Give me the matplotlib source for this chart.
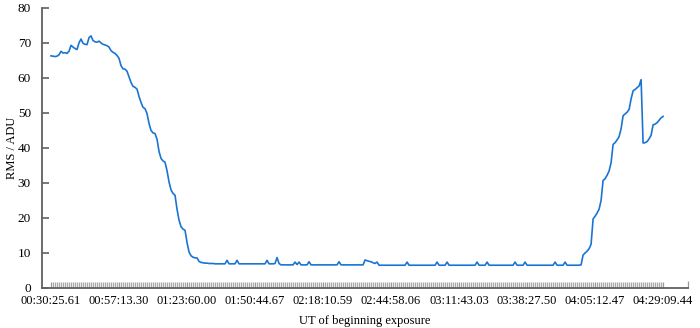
import numpy as np
import matplotlib
matplotlib.use("Agg")
import matplotlib.pyplot as plt

plt.rcParams['font.family'] = ['Liberation Serif', 'DejaVu Serif']

# RMS per exposure (ADU)
rms = [
    66.3, 66.2, 66.1, 66.2, 66.6, 67.6, 67.1, 67.2, 67.0, 67.6, 69.3, 68.8, 68.4, 68.1, 70.0, 71.1, 69.9,
    69.6, 69.5, 71.5, 72.0, 70.7, 70.3, 70.2, 70.5, 70.0, 69.6, 69.4, 69.2, 68.8, 67.8, 67.3, 67.0, 66.4,
    65.6, 63.5, 62.6, 62.5, 61.9, 60.3, 58.7, 57.6, 57.3, 56.8, 54.7, 53.0, 51.6, 51.2, 49.8, 47.0, 45.0,
    44.3, 44.1, 42.5, 39.0, 37.0, 36.3, 35.9, 33.5, 30.3, 28.0, 27.0, 26.5, 22.5, 19.4, 17.5, 16.8, 16.5,
    13.0, 10.3, 9.2, 8.8, 8.6, 8.6, 7.6, 7.3, 7.2,
    7.1, 7.1, 7.0, 7.0, 7.0, 6.9, 6.9, 6.9, 6.9, 6.9, 6.9,
    7.9, 6.9, 6.9, 6.9, 6.9, 7.9, 6.9, 6.9, 6.9, 6.9, 6.9, 6.9,
    6.9, 6.9, 6.9, 6.9, 6.9, 6.9, 6.9, 6.9, 7.9, 6.9, 6.9, 6.9,
    7.0, 8.7, 7.0, 6.6, 6.6, 6.6, 6.6, 6.6, 6.6, 6.6, 7.4, 6.7,
    7.4, 6.6, 6.6, 6.6, 6.6, 7.5, 6.6, 6.6, 6.6, 6.6, 6.6, 6.6,
    6.6, 6.6, 6.6, 6.6, 6.6, 6.6, 6.6, 6.6, 7.5, 6.6, 6.6, 6.6,
    6.6, 6.6, 6.6, 6.6, 6.6, 6.6, 6.6, 6.6, 6.6, 8.0, 7.8, 7.6,
    7.5, 7.2, 7.0, 7.4, 6.5, 6.5, 6.5, 6.5, 6.5, 6.5, 6.5, 6.5,
    6.5, 6.5, 6.5, 6.5, 6.5, 6.5, 7.4, 6.5, 6.5, 6.5, 6.5, 6.5,
    6.5, 6.5, 6.5, 6.5, 6.5, 6.5, 6.5, 6.5, 6.5, 7.4, 6.5, 6.5,
    6.5, 6.5, 7.4, 6.5, 6.5, 6.5, 6.5, 6.5, 6.5, 6.5, 6.5, 6.5,
    6.5, 6.5, 6.5, 6.5, 6.5, 7.4, 6.5, 6.5, 6.5, 6.5, 7.4, 6.5,
    6.5, 6.5, 6.5, 6.5, 6.5, 6.5, 6.5, 6.5, 6.5, 6.5, 6.5, 6.5,
    7.4, 6.5, 6.5, 6.5, 6.5, 7.4, 6.5, 6.5, 6.5, 6.5, 6.5, 6.5,
    6.5, 6.5, 6.5, 6.5, 6.5, 6.5, 6.5, 6.5, 7.4, 6.5, 6.5, 6.5,
    6.5, 7.4, 6.5, 6.5, 6.5, 6.5, 6.5, 6.5, 6.5, 6.6,
    9.4, 10.0, 10.5, 11.2, 12.5, 19.7, 20.5, 21.4, 22.5, 25.0, 30.7, 31.2,
    32.2, 33.4, 35.8, 41.0, 41.5, 42.3, 43.2, 45.5, 49.2, 49.7, 50.2, 51.0,
    54.0, 56.3, 56.7, 57.2, 57.7, 59.5, 41.4, 41.5, 41.8, 42.6, 43.6, 46.6,
    46.8, 47.2, 47.9, 48.6, 49.0,
]

# UT labels shown every 34th exposure
ut_labels = ["00:30:25.61", "00:57:13.30", "01:23:60.00", "01:50:44.67", "02:18:10.59",
             "02:44:58.06", "03:11:43.03", "03:38:27.50", "04:05:12.47", "04:29:09.44"]
label_step = 34

n = len(rms)
x = np.arange(n)

fig = plt.figure(figsize=(7, 3.28), dpi=100)
ax = fig.add_axes([0.06, 0.122, 0.923, 0.854])

ax.plot(x, rms, color="#1a75d2", lw=1.2)

axis_col = "#606060"
for s in ["top", "right"]:
    ax.spines[s].set_visible(False)
for s in ["left", "bottom"]:
    ax.spines[s].set_color(axis_col)
    ax.spines[s].set_linewidth(1.3)

ax.set_xlim(-4.5, 318.5)
ax.set_ylim(0, 80)
ax.set_yticks(np.arange(0, 81, 10))
ax.tick_params(axis="y", direction="in", length=5, width=1.2, color=axis_col,
               pad=8, labelsize=9.5)

major = list(range(0, n, label_step))
ax.set_xticks(major + [318.5])
ax.set_xticklabels(ut_labels[:len(major)] + [""])
ax.set_xticks(x, minor=True)
ax.tick_params(axis="x", which="major", direction="in", length=4, width=0.9,
               color="#999999", pad=5, labelsize=9)
ax.tick_params(axis="x", which="minor", direction="in", length=4, width=0.9,
               color="#a8a8a8")
ax.get_xticklines()[-2].set_color(axis_col)
ax.get_xticklines()[-2].set_markersize(5)

ax.set_xlabel("UT of beginning exposure", fontsize=9, labelpad=6)
ax.set_ylabel("RMS / ADU", fontsize=9)
ax.yaxis.set_label_coords(-0.037, 0.5)

fig.savefig("out.png", dpi=100)
